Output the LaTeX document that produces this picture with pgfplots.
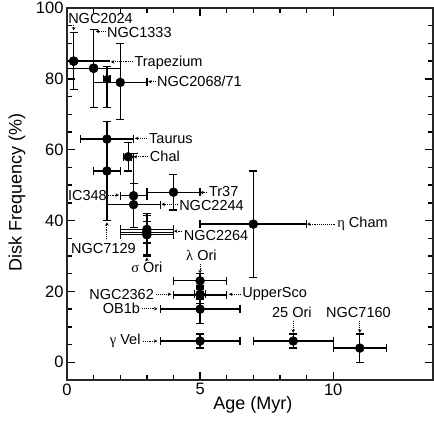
\documentclass[border=0pt]{standalone}
\usepackage{pgfplots}
\pgfplotsset{compat=1.18}
\usepackage{fontspec}
\setmainfont{Liberation Sans}
\newfontfamily\gf{Liberation Serif}
\usetikzlibrary{arrows.meta}
\newcommand{\lf}{\fontsize{14.5}{16}\selectfont}
\pgfplotsset{
  dp/.style={only marks, mark=*, mark size=4.5pt, black, mark options={fill=black},
    error bars/x dir=both, error bars/y dir=both, error bars/x explicit, error bars/y explicit,
    error bars/error bar style={line width=1.3pt, black},
    error bars/error mark options={rotate=90, mark size=4pt, line width=1.3pt, black}},
  dpnc/.style={only marks, mark=*, mark size=4.5pt, black, mark options={fill=black},
    error bars/x dir=both, error bars/x explicit,
    error bars/error bar style={line width=1.3pt, black}, error bars/error mark=none},
}
\tikzset{lab/.style={inner sep=0pt},
  arr/.style={densely dotted, line width=0.9pt, -{Stealth[length=3.5pt,width=3.5pt]}}}
\begin{document}
\begin{tikzpicture}
\useasboundingbox (-67pt,-48pt) rectangle (367pt,380pt);
\begin{axis}[
  at={(0pt,0pt)}, anchor=south west,
  width=366pt, height=372pt, scale only axis,
  xmin=0, xmax=13.75, ymin=-5, ymax=100,
  xtick={0,5,10}, ytick={0,20,...,100},
  minor x tick num=4, minor y tick num=3,
  tick align=inside, xtick pos=both, ytick pos=both,
  major tick length=8pt, minor tick length=5pt,
  every tick/.style={black, line width=1.3pt},
  axis line style={black!85, line width=1.4pt},
  xlabel={Age (Myr)}, ylabel={Disk Frequency (\%)},
  xlabel style={at={(axis description cs:0.508,-0.067)}, anchor=center},
  ylabel style={at={(axis description cs:-0.137,0.505)}, anchor=center},
  label style={font=\fontsize{18}{20}\selectfont},
  tick label style={font=\fontsize{16.5}{18}\selectfont},
  /pgf/number format/assume math mode=true,
  clip=false,
]
% NGC2024
\addplot[dpnc] coordinates {(0.25,85) += (1.35,0) -= (0.25,0)};
\addplot[dp, error bars/x dir=none] coordinates {(0.25,85) +- (0,8)};
% NGC1333
\addplot[dpnc] coordinates {(1,83) +- (1,0)};
\addplot[dp, error bars/x dir=none] coordinates {(1,83) +- (0,11)};
% Trapezium
\addplot[dp, mark size=3.5pt] coordinates {(1.5,80) += (0.12,3.5) -= (0.12,8)};
% NGC2068/71
\addplot[dp] coordinates {(2,79) += (1,11) -= (1,10.5)};
% Taurus
\addplot[dp] coordinates {(1.5,63) +- (1,0)};
% NGC7129
\addplot[dp] coordinates {(1.5,54) +- (0.5,14)};
% Chal
\addplot[dp] coordinates {(2.3,58) += (0.13,4) -= (0.18,4)};
% IC348
\addplot[dp] coordinates {(2.5,47) += (0.5,12) -= (0.5,0)};
% NGC2244
\addplot[dp] coordinates {(2.5,44.5) += (1,6) -= (1,6.5)};
% Tr37
\addplot[dp] coordinates {(4,48) +- (1,5)};
% NGC2264 group
\addplot[dp] coordinates {(3,37.5) += (1,4) -= (1,7)};
\addplot[dp] coordinates {(3,36.7) +- (1,3)};
% sigma Ori
\addplot[dp] coordinates {(3,36) +- (1,6)};
% eta Cham
\addplot[dp] coordinates {(7,39) +- (2,15)};
% lambda Ori
\addplot[dp] coordinates {(5,23) +- (1,2)};
% UpperSco
\addplot[dp] coordinates {(5,19) +- (1,2.5)};
% NGC2362
\addplot[dp] coordinates {(5,19.2) +- (0.2,1.5)};
% OB1b
\addplot[dp] coordinates {(5,15) += (1.5,3) -= (1.5,4)};
% gamma Vel
\addplot[dp] coordinates {(5,6) +- (1.5,2)};
% 25 Ori
\addplot[dp] coordinates {(8.5,6) +- (1.5,2)};
% NGC7160
\addplot[dp] coordinates {(11,4) +- (1,4)};

% labels
\node[lab, anchor=west] at (axis cs:0.04,96.9) {\lf NGC2024};
\draw[arr] (axis cs:0.25,95.3) -- (axis cs:0.25,93.6);
\node[lab, anchor=west] at (axis cs:1.5,93.2) {\lf NGC1333};
\draw[arr] (axis cs:1.45,93.4) -- (axis cs:1.08,93.4);
\node[lab, anchor=west] at (axis cs:2.53,84.6) {\lf Trapezium};
\draw[arr] (axis cs:2.48,84.8) -- (axis cs:1.65,84.8);
\node[lab, anchor=west] at (axis cs:3.38,79.2) {\lf NGC2068/71};
\draw[arr] (axis cs:3.33,79.2) -- (axis cs:3.05,79.2);
\node[lab, anchor=west] at (axis cs:3.08,63.2) {\lf Taurus};
\draw[arr] (axis cs:3.0,63.2) -- (axis cs:2.55,63.2);
\node[lab, anchor=west] at (axis cs:3.11,58) {\lf Chal};
\draw[arr] (axis cs:3.05,58) -- (axis cs:2.5,58);
\node[lab, anchor=east] at (axis cs:1.5,47.2) {\lf IC348};
\draw[arr] (axis cs:1.53,47.2) -- (axis cs:1.95,47.2);
\node[lab, anchor=west] at (axis cs:5.33,48.2) {\lf Tr37};
\draw[arr] (axis cs:5.27,47.9) -- (axis cs:5.0,47.9);
\node[lab, anchor=west] at (axis cs:4.21,44.2) {\lf NGC2244};
\draw[arr] (axis cs:4.15,44.6) -- (axis cs:3.55,44.6);
\node[lab, anchor=west] at (axis cs:4.38,35.9) {\lf NGC2264};
\draw[arr] (axis cs:4.33,37) -- (axis cs:4.02,37);
\node[lab, anchor=west] at (axis cs:10.15,39.1) {\lf {\gf η} Cham};
\draw[arr] (axis cs:10.08,39) -- (axis cs:9.02,39);
\node[lab] at (axis cs:1.37,32) {\lf NGC7129};
\draw[arr] (axis cs:1.5,34.8) -- (axis cs:1.5,39.5);
\node[lab] at (axis cs:3.0,26.8) {\lf {\gf σ} Ori};
\draw[arr] (axis cs:3.0,28.6) -- (axis cs:3.0,29.6);
\node[lab] at (axis cs:5.05,30.1) {\lf {\gf λ} Ori};
\draw[arr] (axis cs:5.0,27.8) -- (axis cs:5.0,25.1);
\node[lab, anchor=east] at (axis cs:3.27,19.2) {\lf NGC2362};
\draw[arr] (axis cs:3.35,19.2) -- (axis cs:3.92,19.2);
\node[lab, anchor=west] at (axis cs:6.58,19.2) {\lf UpperSco};
\draw[arr] (axis cs:6.52,19.2) -- (axis cs:6.08,19.2);
\node[lab, anchor=east] at (axis cs:2.75,15.1) {\lf OB1b};
\draw[arr] (axis cs:2.82,15.1) -- (axis cs:3.4,15.1);
\node[lab, anchor=east] at (axis cs:2.77,6.1) {\lf {\gf γ} Vel};
\draw[arr] (axis cs:2.85,6) -- (axis cs:3.4,6);
\node[lab] at (axis cs:8.45,14.1) {\lf 25 Ori};
\draw[arr] (axis cs:8.5,11.6) -- (axis cs:8.5,8.3);
\node[lab] at (axis cs:10.95,14.1) {\lf NGC7160};
\draw[arr] (axis cs:11,11.6) -- (axis cs:11,8.3);
\end{axis}
\end{tikzpicture}
\end{document}
